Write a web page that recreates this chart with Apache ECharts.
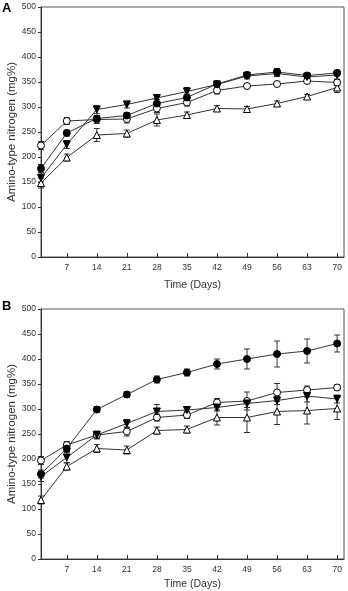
<!DOCTYPE html>
<html>
<head>
<meta charset="utf-8">
<title>Amino-type nitrogen</title>
<script src="https://cdn.jsdelivr.net/npm/echarts@6/dist/echarts.min.js"></script>
<style>
  html, body { margin: 0; padding: 0; background: #fff; }
  #myChart { width: 348px; height: 591px; }
</style>
</head>
<body>
<div id="myChart"></div>
<script>
// sampling days
const days = [1, 7, 14, 21, 28, 35, 42, 49, 56, 63, 70];
const dayTicks = [7, 14, 21, 28, 35, 42, 49, 56, 63, 70];

// panel A
const aFilledCircle = [177, 248, 277, 283, 307, 319, 346, 364, 370, 363, 368];
const aOpenCircle   = [223, 272, 275, 276, 297, 309, 333, 342, 346, 352, 349];
const aFilledTri    = [158, 225, 295, 305, 318, 331, 345, 362, 367, 360, 364];
const aOpenTri      = [148, 199, 244, 247, 274, 284, 297, 296, 307, 321, 339];
const aFilledCircleErr = [8, 6, 6, 6, 8, 7, 6, 6, 7, 6, 6];
const aOpenCircleErr   = [8, 7, 8, 8, 8, 7, 7, 5, 5, 5, 6];
const aFilledTriErr    = [8, 8, 8, 7, 7, 8, 5, 6, 6, 6, 8];
const aOpenTriErr      = [10, 7, 13, 7, 12, 6, 6, 5, 5, 4, 10];

// panel B
const bFilledCircle = [170, 221, 299, 329, 359, 373, 390, 400, 410, 416, 431];
const bOpenCircle   = [197, 228, 248, 255, 283, 288, 313, 316, 333, 338, 343];
const bFilledTri    = [165, 203, 248, 271, 295, 298, 303, 311, 317, 326, 320];
const bOpenTri      = [118, 185, 221, 218, 257, 259, 283, 283, 295, 297, 301];
const bFilledCircleErr = [8, 6, 6, 6, 7, 7, 10, 20, 26, 24, 17];
const bOpenCircleErr   = [8, 7, 7, 9, 7, 7, 8, 18, 18, 8, 5];
const bFilledTriErr    = [10, 10, 8, 8, 14, 6, 7, 8, 8, 12, 8];
const bOpenTriErr      = [8, 7, 8, 8, 7, 7, 15, 30, 26, 27, 22];

const FONT = 'Arial, "Liberation Sans", sans-serif';
const INK = '#333';

// marker styles
const styles = {
  filledCircle: { symbol: 'circle', rotate: 0, fill: '#000' },
  openCircle:   { symbol: 'circle', rotate: 0, fill: '#fff' },
  filledTri:    { symbol: 'triangle', rotate: 180, fill: '#000' },
  openTri:      { symbol: 'triangle', rotate: 0, fill: '#fff' }
};

function lineSeries(values, st, idx) {
  return {
    type: 'line',
    xAxisIndex: idx, yAxisIndex: idx,
    data: days.map((d, i) => [d, values[i]]),
    symbol: st.symbol,
    symbolRotate: st.rotate,
    symbolSize: 7,
    z: 3,
    lineStyle: { color: INK, width: 1 },
    itemStyle: { color: st.fill, borderColor: '#000', borderWidth: 1 }
  };
}

function errSeries(values, errs, idx) {
  return {
    type: 'custom',
    xAxisIndex: idx, yAxisIndex: idx,
    z: 2,
    data: days.map((d, i) => [d, values[i] - errs[i], values[i] + errs[i]]),
    renderItem: function (params, api) {
      const lo = api.coord([api.value(0), api.value(1)]);
      const hi = api.coord([api.value(0), api.value(2)]);
      const w = 3;
      const st = { stroke: INK, lineWidth: 1 };
      return {
        type: 'group',
        children: [
          { type: 'line', shape: { x1: lo[0], y1: lo[1], x2: hi[0], y2: hi[1] }, style: st },
          { type: 'line', shape: { x1: lo[0] - w, y1: lo[1], x2: lo[0] + w, y2: lo[1] }, style: st },
          { type: 'line', shape: { x1: hi[0] - w, y1: hi[1], x2: hi[0] + w, y2: hi[1] }, style: st }
        ]
      };
    }
  };
}

function xAxis(idx, gap) {
  return {
    type: 'value', gridIndex: idx, min: 1, max: 71.6,
    name: 'Time (Days)', nameLocation: 'middle', nameGap: gap, nameMoveOverlap: false,
    nameTextStyle: { fontFamily: FONT, fontSize: 10.5, color: INK },
    axisLine: { lineStyle: { color: INK, width: 1 } },
    axisTick: { inside: true, length: 4, lineStyle: { color: INK }, customValues: dayTicks },
    axisLabel: { fontFamily: FONT, fontSize: 8.5, color: INK, margin: 6, customValues: dayTicks },
    splitLine: { show: false }
  };
}

function yAxis(idx) {
  return {
    type: 'value', gridIndex: idx, min: 0, max: 500, interval: 50,
    name: 'Amino-type nitrogen (mg%)', nameLocation: 'middle', nameGap: 23, nameMoveOverlap: false,
    nameTextStyle: { fontFamily: FONT, fontSize: 11.5, color: INK },
    axisLine: { show: true, lineStyle: { color: INK, width: 1 } },
    axisTick: { show: true, inside: false, length: 3, lineStyle: { color: INK } },
    axisLabel: { fontFamily: FONT, fontSize: 8.5, color: INK, margin: 5 },
    splitLine: { show: false }
  };
}

const myChart = echarts.init(document.getElementById('myChart'));
const option = {
  animation: false,
  title: [
    { text: 'A', left: 2, top: 2, padding: 0, textStyle: { fontFamily: FONT, fontSize: 13, fontWeight: 'bold', color: '#000' } },
    { text: 'B', left: 2, top: 300, padding: 0, textStyle: { fontFamily: FONT, fontSize: 13, fontWeight: 'bold', color: '#000' } }
  ],
  grid: [
    { left: 41, top: 7, width: 303, height: 250, show: true, borderColor: '#555', borderWidth: 1, backgroundColor: '#fff', outerBoundsMode: 'none', containLabel: false },
    { left: 41, top: 309, width: 303, height: 250, show: true, borderColor: '#555', borderWidth: 1, backgroundColor: '#fff', outerBoundsMode: 'none', containLabel: false }
  ],
  xAxis: [xAxis(0, 23), xAxis(1, 20)],
  yAxis: [yAxis(0), yAxis(1)],
  series: [
    errSeries(aFilledCircle, aFilledCircleErr, 0),
    errSeries(aOpenCircle, aOpenCircleErr, 0),
    errSeries(aFilledTri, aFilledTriErr, 0),
    errSeries(aOpenTri, aOpenTriErr, 0),
    lineSeries(aOpenTri, styles.openTri, 0),
    lineSeries(aOpenCircle, styles.openCircle, 0),
    lineSeries(aFilledTri, styles.filledTri, 0),
    lineSeries(aFilledCircle, styles.filledCircle, 0),
    errSeries(bFilledCircle, bFilledCircleErr, 1),
    errSeries(bOpenCircle, bOpenCircleErr, 1),
    errSeries(bFilledTri, bFilledTriErr, 1),
    errSeries(bOpenTri, bOpenTriErr, 1),
    lineSeries(bOpenTri, styles.openTri, 1),
    lineSeries(bOpenCircle, styles.openCircle, 1),
    lineSeries(bFilledTri, styles.filledTri, 1),
    lineSeries(bFilledCircle, styles.filledCircle, 1)
  ]
};
myChart.setOption(option);

window.addEventListener('resize', () => {
  myChart.resize();
});
</script>
</body>
</html>
